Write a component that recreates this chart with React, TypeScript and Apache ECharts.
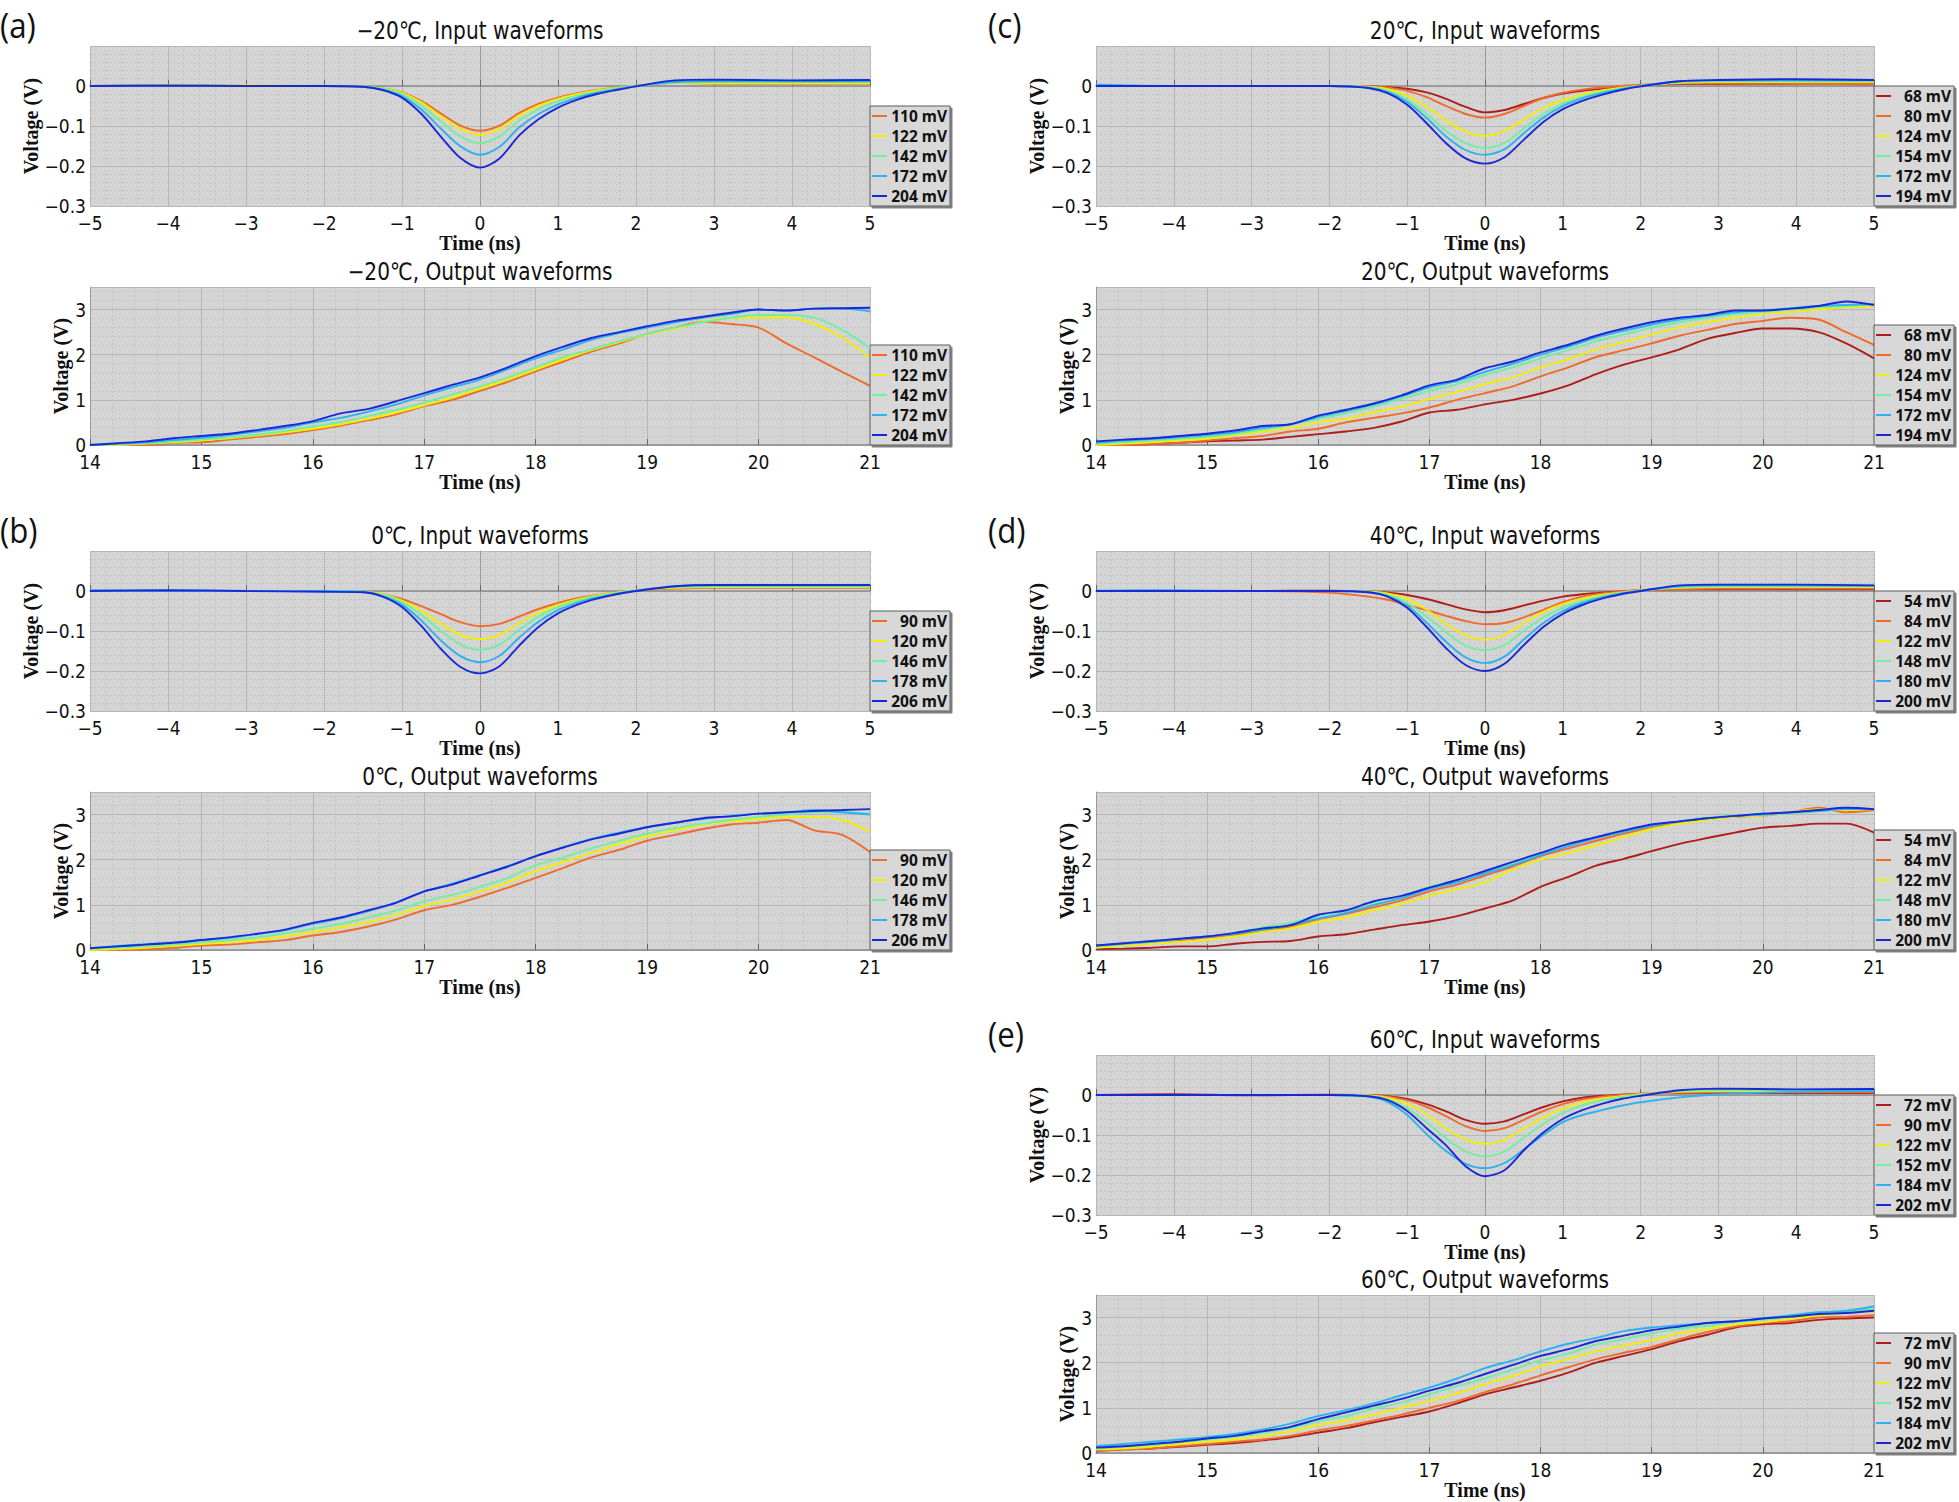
import React, { useEffect, useRef } from 'react';
import * as echarts from 'echarts';

// ---------- time axes (ns) ----------
const IN_T = [-5, -4, -3, -2, -1.5, -1.25, -1, -0.75, -0.5, -0.25, 0, 0.25, 0.5, 0.75, 1, 1.25, 1.5, 1.75, 2, 2.5, 3, 4, 5];
const OUT_T = [14, 14.25, 14.5, 14.75, 15, 15.25, 15.5, 15.75, 16, 16.25, 16.5, 16.75, 17, 17.25, 17.5, 17.75, 18, 18.25, 18.5, 18.75, 19, 19.25, 19.5, 19.75, 20, 20.25, 20.5, 20.75, 21];

// ---------- (a) -20 C ----------
const A_LABELS = ['110 mV', '122 mV', '142 mV', '172 mV', '204 mV'];
const A_IN_110 = [0, 0.002, 0, 0, -0.001, -0.006, -0.016, -0.038, -0.069, -0.099, -0.112, -0.099, -0.068, -0.045, -0.029, -0.018, -0.01, -0.004, 0.001, 0.008, 0.005, 0.005, 0.005];
const A_IN_122 = [0, 0.001, 0.002, 0, -0.001, -0.006, -0.017, -0.041, -0.076, -0.107, -0.122, -0.107, -0.074, -0.049, -0.032, -0.02, -0.011, -0.005, 0.001, 0.008, 0.006, 0.006, 0.006];
const A_IN_142 = [0, 0, 0, 0.001, -0.001, -0.007, -0.02, -0.049, -0.089, -0.126, -0.143, -0.126, -0.087, -0.058, -0.038, -0.024, -0.014, -0.006, 0, 0.009, 0.01, 0.01, 0.01];
const A_IN_172 = [0, 0.001, 0, 0, -0.002, -0.009, -0.025, -0.059, -0.107, -0.151, -0.172, -0.152, -0.104, -0.07, -0.046, -0.029, -0.017, -0.008, 0, 0.01, 0.012, 0.012, 0.012];
const A_IN_204 = [0, 0.001, 0, 0, -0.002, -0.01, -0.029, -0.07, -0.127, -0.18, -0.204, -0.181, -0.124, -0.083, -0.054, -0.034, -0.02, -0.01, -0.001, 0.014, 0.016, 0.014, 0.015];
const A_OUT_110 = [0, 0, 0, 0.05, 0.06, 0.12, 0.18, 0.24, 0.33, 0.43, 0.55, 0.68, 0.86, 1.0, 1.2, 1.4, 1.63, 1.85, 2.07, 2.25, 2.46, 2.6, 2.73, 2.68, 2.6, 2.25, 1.94, 1.62, 1.31];
const A_OUT_122 = [0, 0, 0.03, 0.06, 0.1, 0.15, 0.21, 0.28, 0.36, 0.46, 0.58, 0.72, 0.88, 1.05, 1.25, 1.45, 1.67, 1.9, 2.1, 2.28, 2.45, 2.58, 2.73, 2.82, 2.82, 2.83, 2.68, 2.38, 1.93];
const A_OUT_142 = [0, 0.02, 0.04, 0.08, 0.12, 0.17, 0.23, 0.31, 0.41, 0.51, 0.64, 0.78, 0.94, 1.12, 1.3, 1.5, 1.72, 1.95, 2.12, 2.3, 2.46, 2.6, 2.72, 2.82, 2.88, 2.88, 2.82, 2.55, 2.15];
const A_OUT_172 = [0, 0.03, 0.06, 0.11, 0.16, 0.22, 0.3, 0.38, 0.5, 0.6, 0.74, 0.9, 1.1, 1.28, 1.45, 1.68, 1.92, 2.12, 2.33, 2.48, 2.6, 2.72, 2.82, 2.9, 3.0, 2.98, 3.02, 3.02, 2.96];
const A_OUT_204 = [0, 0.04, 0.08, 0.15, 0.2, 0.25, 0.33, 0.42, 0.53, 0.7, 0.8, 0.97, 1.15, 1.33, 1.5, 1.72, 1.97, 2.18, 2.37, 2.5, 2.63, 2.75, 2.84, 2.93, 3.0, 2.98, 3.02, 3.03, 3.04];

// ---------- (b) 0 C ----------
const B_LABELS = ['90 mV', '120 mV', '146 mV', '178 mV', '206 mV'];
const B_IN_90 = [0, 0, 0, 0, -0.002, -0.008, -0.02, -0.038, -0.058, -0.078, -0.088, -0.082, -0.064, -0.045, -0.03, -0.018, -0.01, -0.004, 0.001, 0.006, 0.008, 0.008, 0.008];
const B_IN_120 = [0, 0, 0, 0, -0.002, -0.008, -0.024, -0.05, -0.082, -0.11, -0.12, -0.11, -0.08, -0.054, -0.035, -0.021, -0.011, -0.004, 0.002, 0.008, 0.01, 0.01, 0.01];
const B_IN_146 = [0, 0, 0, 0, -0.002, -0.01, -0.028, -0.06, -0.1, -0.134, -0.147, -0.134, -0.097, -0.064, -0.04, -0.024, -0.013, -0.005, 0.002, 0.01, 0.012, 0.012, 0.012];
const B_IN_178 = [0.002, 0, 0, 0, -0.002, -0.012, -0.034, -0.074, -0.124, -0.163, -0.178, -0.162, -0.117, -0.077, -0.048, -0.029, -0.016, -0.007, 0.001, 0.012, 0.015, 0.014, 0.014];
const B_IN_206 = [0, 0.002, 0, -0.002, -0.003, -0.014, -0.04, -0.088, -0.145, -0.19, -0.206, -0.188, -0.137, -0.09, -0.056, -0.034, -0.019, -0.008, 0, 0.012, 0.015, 0.015, 0.015];
const B_OUT_90 = [0, 0, 0.02, 0.05, 0.1, 0.12, 0.17, 0.22, 0.32, 0.4, 0.52, 0.68, 0.88, 1.0, 1.18, 1.38, 1.6, 1.82, 2.05, 2.22, 2.42, 2.55, 2.68, 2.78, 2.82, 2.88, 2.65, 2.55, 2.17];
const B_OUT_120 = [0, 0.02, 0.05, 0.09, 0.13, 0.17, 0.22, 0.3, 0.4, 0.5, 0.62, 0.78, 0.98, 1.12, 1.3, 1.5, 1.75, 1.95, 2.15, 2.35, 2.52, 2.65, 2.78, 2.85, 2.9, 2.95, 2.95, 2.88, 2.62];
const B_OUT_146 = [0.03, 0.05, 0.08, 0.12, 0.17, 0.22, 0.28, 0.37, 0.47, 0.58, 0.72, 0.88, 1.08, 1.22, 1.4, 1.6, 1.88, 2.05, 2.25, 2.42, 2.58, 2.7, 2.8, 2.88, 2.95, 3.0, 3.05, 3.05, 3.02];
const B_OUT_178 = [0.04, 0.09, 0.13, 0.17, 0.22, 0.27, 0.35, 0.44, 0.58, 0.7, 0.86, 1.05, 1.3, 1.47, 1.66, 1.86, 2.08, 2.28, 2.46, 2.6, 2.72, 2.82, 2.9, 2.97, 3.02, 3.05, 3.1, 3.05, 3.0];
const B_OUT_206 = [0.04, 0.08, 0.12, 0.16, 0.22, 0.28, 0.36, 0.45, 0.6, 0.72, 0.88, 1.05, 1.3, 1.45, 1.65, 1.85, 2.08, 2.27, 2.45, 2.58, 2.72, 2.82, 2.92, 2.96, 3.02, 3.05, 3.08, 3.1, 3.12];

// ---------- (c) 20 C ----------
const C_LABELS = ['68 mV', '80 mV', '124 mV', '154 mV', '172 mV', '194 mV'];
const C_IN_68 = [0, 0, 0, 0, -0.001, -0.003, -0.007, -0.016, -0.032, -0.052, -0.066, -0.06, -0.045, -0.03, -0.019, -0.012, -0.007, -0.003, 0.002, 0.005, 0.005, 0.005, 0.004];
const C_IN_80 = [0, 0, 0, 0, -0.001, -0.004, -0.012, -0.028, -0.05, -0.07, -0.079, -0.07, -0.05, -0.03, -0.017, -0.009, -0.004, 0, 0.003, 0.006, 0.006, 0.005, 0.005];
const C_IN_124 = [0, 0, 0, 0, -0.002, -0.008, -0.024, -0.052, -0.086, -0.114, -0.125, -0.113, -0.083, -0.055, -0.035, -0.021, -0.011, -0.004, 0.001, 0.008, 0.01, 0.01, 0.01];
const C_IN_154 = [0, 0, 0, 0, -0.003, -0.012, -0.034, -0.07, -0.112, -0.143, -0.155, -0.142, -0.106, -0.07, -0.044, -0.027, -0.015, -0.006, 0, 0.01, 0.012, 0.012, 0.012];
const C_IN_172 = [0.003, 0, 0, 0, -0.004, -0.015, -0.04, -0.08, -0.126, -0.16, -0.172, -0.158, -0.118, -0.079, -0.05, -0.031, -0.018, -0.008, 0, 0.012, 0.014, 0.014, 0.014];
const C_IN_194 = [0, 0, 0, 0, -0.005, -0.018, -0.047, -0.093, -0.143, -0.181, -0.194, -0.178, -0.134, -0.09, -0.058, -0.037, -0.022, -0.01, -0.001, 0.012, 0.015, 0.017, 0.015];
const C_OUT_68 = [0, 0, 0.02, 0.05, 0.08, 0.1, 0.12, 0.18, 0.24, 0.3, 0.38, 0.52, 0.72, 0.78, 0.9, 1.0, 1.14, 1.32, 1.57, 1.78, 1.94, 2.12, 2.35, 2.48, 2.58, 2.58, 2.5, 2.25, 1.92];
const C_OUT_80 = [0, 0, 0.02, 0.05, 0.1, 0.15, 0.2, 0.3, 0.36, 0.5, 0.6, 0.7, 0.83, 1.0, 1.15, 1.3, 1.52, 1.72, 1.95, 2.1, 2.25, 2.42, 2.55, 2.68, 2.75, 2.82, 2.78, 2.5, 2.22];
const C_OUT_124 = [0, 0.03, 0.06, 0.1, 0.14, 0.22, 0.3, 0.38, 0.5, 0.58, 0.72, 0.85, 1.02, 1.17, 1.35, 1.5, 1.72, 1.9, 2.12, 2.28, 2.45, 2.6, 2.72, 2.82, 2.9, 2.95, 3.0, 3.05, 3.07];
const C_OUT_154 = [0.03, 0.06, 0.1, 0.14, 0.18, 0.25, 0.34, 0.45, 0.58, 0.7, 0.85, 1.02, 1.2, 1.35, 1.55, 1.72, 1.92, 2.1, 2.3, 2.45, 2.6, 2.72, 2.82, 2.9, 2.95, 3.0, 3.05, 3.08, 3.12];
const C_OUT_172 = [0.05, 0.1, 0.13, 0.17, 0.22, 0.28, 0.38, 0.46, 0.62, 0.75, 0.9, 1.08, 1.28, 1.42, 1.62, 1.8, 2.0, 2.18, 2.38, 2.53, 2.67, 2.78, 2.86, 2.94, 2.98, 3.03, 3.08, 3.1, 3.12];
const C_OUT_194 = [0.08, 0.12, 0.15, 0.2, 0.25, 0.32, 0.42, 0.46, 0.65, 0.78, 0.92, 1.1, 1.32, 1.45, 1.7, 1.85, 2.05, 2.22, 2.42, 2.58, 2.72, 2.82, 2.88, 2.98, 2.98, 3.02, 3.08, 3.18, 3.1];

// ---------- (d) 40 C ----------
const D_LABELS = ['54 mV', '84 mV', '122 mV', '148 mV', '180 mV', '200 mV'];
const D_IN_54 = [0, 0, 0, 0.001, -0.001, -0.004, -0.01, -0.02, -0.033, -0.046, -0.053, -0.048, -0.036, -0.024, -0.014, -0.008, -0.004, -0.001, 0.002, 0.004, 0.004, 0.004, 0.004];
const D_IN_84 = [0, 0, 0, -0.004, -0.014, -0.022, -0.035, -0.048, -0.062, -0.075, -0.083, -0.08, -0.066, -0.047, -0.028, -0.014, -0.006, -0.001, 0.002, 0.005, 0.006, 0.006, 0.006];
const D_IN_122 = [0, 0, 0, 0, -0.001, -0.006, -0.02, -0.047, -0.082, -0.111, -0.122, -0.11, -0.08, -0.052, -0.032, -0.019, -0.01, -0.004, 0.002, 0.008, 0.01, 0.01, 0.01];
const D_IN_148 = [0, 0, 0, 0, -0.002, -0.01, -0.03, -0.064, -0.103, -0.136, -0.148, -0.135, -0.099, -0.066, -0.042, -0.025, -0.013, -0.005, 0.001, 0.01, 0.012, 0.012, 0.012];
const D_IN_180 = [0.001, 0.002, 0, 0, -0.003, -0.013, -0.037, -0.079, -0.127, -0.166, -0.18, -0.164, -0.121, -0.08, -0.05, -0.03, -0.016, -0.006, 0.001, 0.012, 0.014, 0.014, 0.013];
const D_IN_200 = [0, 0, 0, 0, -0.003, -0.014, -0.042, -0.09, -0.143, -0.185, -0.2, -0.182, -0.135, -0.09, -0.057, -0.035, -0.019, -0.008, 0, 0.014, 0.016, 0.016, 0.014];
const D_OUT_54 = [0.02, 0.03, 0.05, 0.08, 0.08, 0.14, 0.18, 0.2, 0.3, 0.35, 0.45, 0.55, 0.63, 0.75, 0.92, 1.1, 1.4, 1.62, 1.87, 2.02, 2.19, 2.35, 2.48, 2.6, 2.71, 2.75, 2.8, 2.8, 2.6];
const D_OUT_84 = [0.08, 0.12, 0.18, 0.22, 0.28, 0.34, 0.42, 0.52, 0.68, 0.8, 0.95, 1.1, 1.3, 1.45, 1.65, 1.85, 2.08, 2.25, 2.42, 2.58, 2.72, 2.82, 2.9, 2.95, 2.98, 3.05, 3.15, 3.05, 3.1];
const D_OUT_122 = [0.05, 0.1, 0.14, 0.18, 0.22, 0.3, 0.4, 0.48, 0.62, 0.72, 0.88, 1.02, 1.2, 1.35, 1.5, 1.78, 2.0, 2.15, 2.32, 2.5, 2.68, 2.8, 2.88, 2.95, 2.98, 3.05, 3.12, 3.1, 3.12];
const D_OUT_148 = [0.08, 0.13, 0.18, 0.24, 0.3, 0.38, 0.5, 0.6, 0.75, 0.88, 1.05, 1.2, 1.4, 1.55, 1.72, 1.9, 2.12, 2.3, 2.48, 2.62, 2.75, 2.85, 2.93, 2.98, 3.0, 3.03, 3.08, 3.12, 3.12];
const D_OUT_180 = [0.1, 0.14, 0.18, 0.24, 0.3, 0.36, 0.45, 0.55, 0.7, 0.82, 1.0, 1.15, 1.35, 1.5, 1.7, 1.88, 2.1, 2.3, 2.48, 2.62, 2.75, 2.85, 2.92, 2.97, 3.0, 3.05, 3.08, 3.12, 3.12];
const D_OUT_200 = [0.1, 0.15, 0.2, 0.25, 0.3, 0.38, 0.48, 0.55, 0.78, 0.88, 1.08, 1.2, 1.38, 1.55, 1.75, 1.95, 2.15, 2.35, 2.5, 2.65, 2.78, 2.85, 2.92, 2.97, 3.02, 3.05, 3.1, 3.15, 3.12];

// ---------- (e) 60 C ----------
const E_LABELS = ['72 mV', '90 mV', '122 mV', '152 mV', '184 mV', '202 mV'];
const E_IN_72 = [0, 0.002, -0.001, 0.001, 0, -0.003, -0.01, -0.023, -0.041, -0.062, -0.072, -0.066, -0.048, -0.03, -0.016, -0.007, -0.002, 0.001, 0.003, 0.006, 0.005, 0.005, 0.005];
const E_IN_90 = [0, 0, 0, 0, 0, -0.004, -0.013, -0.03, -0.053, -0.078, -0.09, -0.083, -0.062, -0.04, -0.023, -0.011, -0.004, 0, 0.003, 0.007, 0.007, 0.007, 0.007];
const E_IN_122 = [0, 0, 0, 0, -0.001, -0.007, -0.022, -0.048, -0.083, -0.111, -0.122, -0.112, -0.084, -0.056, -0.034, -0.019, -0.009, -0.003, 0.002, 0.008, 0.01, 0.01, 0.01];
const E_IN_152 = [0, 0, 0, 0, -0.002, -0.011, -0.033, -0.068, -0.109, -0.141, -0.153, -0.141, -0.107, -0.072, -0.045, -0.026, -0.013, -0.005, 0.001, 0.01, 0.012, 0.012, 0.012];
const E_IN_184 = [0, 0, 0, 0, -0.004, -0.018, -0.05, -0.098, -0.14, -0.172, -0.183, -0.17, -0.136, -0.1, -0.068, -0.05, -0.038, -0.027, -0.018, -0.006, 0.002, 0.008, 0.01];
const E_IN_202 = [0, 0, 0, 0, -0.003, -0.013, -0.04, -0.083, -0.126, -0.178, -0.203, -0.188, -0.138, -0.094, -0.06, -0.038, -0.022, -0.01, -0.002, 0.012, 0.016, 0.014, 0.015];
const E_OUT_72 = [0.05, 0.08, 0.1, 0.14, 0.18, 0.22, 0.28, 0.35, 0.45, 0.55, 0.68, 0.8, 0.92, 1.1, 1.3, 1.45, 1.6, 1.78, 2.0, 2.15, 2.3, 2.48, 2.62, 2.78, 2.85, 2.88, 2.95, 2.98, 3.0];
const E_OUT_90 = [0.05, 0.08, 0.1, 0.15, 0.2, 0.25, 0.3, 0.38, 0.5, 0.6, 0.72, 0.85, 1.0, 1.15, 1.35, 1.52, 1.72, 1.9, 2.08, 2.22, 2.35, 2.52, 2.68, 2.8, 2.88, 2.92, 3.0, 3.02, 3.05];
const E_OUT_122 = [0.08, 0.1, 0.14, 0.2, 0.25, 0.3, 0.38, 0.48, 0.62, 0.72, 0.85, 1.0, 1.15, 1.32, 1.52, 1.7, 1.92, 2.08, 2.25, 2.38, 2.5, 2.65, 2.75, 2.85, 2.9, 2.97, 3.05, 3.1, 3.15];
const E_OUT_152 = [0.1, 0.14, 0.18, 0.24, 0.3, 0.36, 0.45, 0.55, 0.7, 0.82, 0.98, 1.12, 1.3, 1.48, 1.65, 1.85, 2.05, 2.2, 2.4, 2.52, 2.65, 2.75, 2.82, 2.9, 2.95, 3.02, 3.08, 3.12, 3.2];
const E_OUT_184 = [0.15, 0.2, 0.25, 0.3, 0.35, 0.42, 0.52, 0.65, 0.82, 0.95, 1.1, 1.28, 1.45, 1.65, 1.88, 2.05, 2.25, 2.42, 2.55, 2.7, 2.78, 2.83, 2.88, 2.92, 2.98, 3.05, 3.12, 3.15, 3.25];
const E_OUT_202 = [0.12, 0.15, 0.2, 0.25, 0.32, 0.38, 0.48, 0.58, 0.75, 0.9, 1.05, 1.2, 1.38, 1.55, 1.75, 1.95, 2.15, 2.3, 2.48, 2.6, 2.72, 2.8, 2.88, 2.92, 2.98, 3.02, 3.08, 3.1, 3.15];

const PANELS = [
  { id: 'a', temp: '−20', col: 0, row: 0, labels: A_LABELS,
    input: [A_IN_110, A_IN_122, A_IN_142, A_IN_172, A_IN_204],
    output: [A_OUT_110, A_OUT_122, A_OUT_142, A_OUT_172, A_OUT_204] },
  { id: 'b', temp: '0', col: 0, row: 1, labels: B_LABELS,
    input: [B_IN_90, B_IN_120, B_IN_146, B_IN_178, B_IN_206],
    output: [B_OUT_90, B_OUT_120, B_OUT_146, B_OUT_178, B_OUT_206] },
  { id: 'c', temp: '20', col: 1, row: 0, labels: C_LABELS,
    input: [C_IN_68, C_IN_80, C_IN_124, C_IN_154, C_IN_172, C_IN_194],
    output: [C_OUT_68, C_OUT_80, C_OUT_124, C_OUT_154, C_OUT_172, C_OUT_194] },
  { id: 'd', temp: '40', col: 1, row: 1, labels: D_LABELS,
    input: [D_IN_54, D_IN_84, D_IN_122, D_IN_148, D_IN_180, D_IN_200],
    output: [D_OUT_54, D_OUT_84, D_OUT_122, D_OUT_148, D_OUT_180, D_OUT_200] },
  { id: 'e', temp: '60', col: 1, row: 2, labels: E_LABELS,
    input: [E_IN_72, E_IN_90, E_IN_122, E_IN_152, E_IN_184, E_IN_202],
    output: [E_OUT_72, E_OUT_90, E_OUT_122, E_OUT_152, E_OUT_184, E_OUT_202] },
];

// ---------- styles / layout ----------
const JET5 = ['#f06a2a', '#f2ee00', '#72eea0', '#2cb2f0', '#1a28d6'];
const JET6 = ['#b01c1c', '#f06a2a', '#f2ee00', '#72eea0', '#2cb2f0', '#1a28d6'];
const COL_LEFT = [90, 1096];
const COL_W = [780, 778];
const ROW_IN_TOP = [46, 551, 1055];
const ROW_OUT_TOP = [287, 792, 1295];
const IN_H = 160;
const OUT_H = 158;
const LEG_ROW = 20;
const TICK_FONT = "'Liberation Sans Narrow', 'DejaVu Sans Condensed', Roboto, sans-serif";
const TITLE_FONT = "'DejaVu Sans', 'Noto Sans CJK JP', sans-serif";

const minus = (v: number, d: number) => {
  const r = Math.round(v * Math.pow(10, d)) / Math.pow(10, d);
  if (r === 0) return '0';
  return r < 0 ? '−' + Math.abs(r).toFixed(d) : r.toFixed(d);
};

function buildOption() {
  const grid: any[] = [];
  const xAxis: any[] = [];
  const yAxis: any[] = [];
  const series: any[] = [];
  const legend: any[] = [];
  const graphic: any[] = [];
  let gi = 0;

  PANELS.forEach((p) => {
    const left = COL_LEFT[p.col];
    const width = COL_W[p.col];
    const colors = p.labels.length === 6 ? JET6 : JET5;
    const names = p.labels.map((l) => p.id + '|' + l);

    graphic.push({
      type: 'text', x: p.col === 0 ? 0 : 988, y: ROW_IN_TOP[p.row] - 21, scaleX: 0.92,
      style: { text: '(' + p.id + ')', fontSize: 34, fontFamily: "'Open Sans', 'Noto Sans', sans-serif", fill: '#111',
        align: 'left', verticalAlign: 'middle', textAlign: 'left', textVerticalAlign: 'middle' },
    });

    const plots = [
      { kind: 'Input', top: ROW_IN_TOP[p.row], h: IN_H, t: IN_T, data: p.input, xmin: -5, xmax: 5,
        ymin: -0.3, ymax: 0.1, yint: 0.1, gapY: 43, gapX: 20,
        yfmt: (v: number) => (v > 0.05 ? '' : minus(v, 1)) },
      { kind: 'Output', top: ROW_OUT_TOP[p.row], h: OUT_H, t: OUT_T, data: p.output, xmin: 14, xmax: 21,
        ymin: 0, ymax: 3.5, yint: 1, gapY: 17, gapX: 22,
        yfmt: (v: number) => (v > 3.2 ? '' : String(Math.round(v))) },
    ];

    plots.forEach((pl) => {
      grid.push({ left, top: pl.top, width, height: pl.h, show: true, backgroundColor: '#d4d4d4', borderWidth: 0 });
      xAxis.push({
        type: 'value', gridIndex: gi, min: pl.xmin, max: pl.xmax, interval: 1,
        name: 'Time (ns)', nameLocation: 'middle', nameGap: pl.gapX,
        nameTextStyle: { fontFamily: "'Liberation Serif', serif", fontWeight: 'bold', fontSize: 20, color: '#111' },
        axisLine: { show: true, lineStyle: { color: '#8c8c8c', width: 1.5 } },
        axisTick: { show: true, inside: true, length: 6, lineStyle: { color: '#666' } },
        axisLabel: { formatter: (v: number) => minus(v, 0), fontSize: 19, fontFamily: TICK_FONT, color: '#111', margin: 7 },
        splitLine: { show: true, lineStyle: { color: '#b6b6b6', width: 1 } },
        minorTick: { show: false, splitNumber: 5 },
        minorSplitLine: { show: true, lineStyle: { color: '#c3c3c3', width: 1, type: [2, 2] } },
      });
      yAxis.push({
        type: 'value', gridIndex: gi, min: pl.ymin, max: pl.ymax, interval: pl.yint,
        name: 'Voltage (V)', nameLocation: 'middle', nameGap: pl.gapY, nameRotate: 90,
        nameTextStyle: { fontFamily: "'Liberation Serif', serif", fontWeight: 'bold', fontSize: 20, color: '#111' },
        axisLine: { show: true, lineStyle: { color: '#9a9a9a', width: 1 } },
        axisTick: { show: false },
        axisLabel: { formatter: pl.yfmt, fontSize: 19, fontFamily: TICK_FONT, color: '#111', margin: 4 },
        splitLine: { show: true, lineStyle: { color: '#b6b6b6', width: 1 } },
        minorTick: { show: false, splitNumber: 5 },
        minorSplitLine: { show: true, lineStyle: { color: '#c3c3c3', width: 1, type: [2, 2] } },
      });
      pl.data.forEach((vals: number[], si: number) => {
        const color = colors[si];
        series.push({
          type: 'line', name: names[si], xAxisIndex: gi, yAxisIndex: gi,
          data: pl.t.map((t: number, k: number) => [t, vals[k]]),
          showSymbol: false, symbol: 'none', smooth: 0.3, silent: true,
          color, itemStyle: { color }, lineStyle: { color, width: 1.9 }, z: 2 + si,
        });
      });
      const n = names.length;
      legend.push({
        show: true, data: names, orient: 'vertical', left: left + width, top: pl.top + pl.h - n * LEG_ROW,
        icon: 'rect', itemWidth: 15, itemHeight: 2, itemGap: 0, padding: [0, 3, 0, 2],
        backgroundColor: '#d8d8d8', borderColor: '#5a5a5a', borderWidth: 1,
        shadowColor: 'rgba(0,0,0,0.5)', shadowOffsetX: 2, shadowOffsetY: 2, shadowBlur: 1,
        selectedMode: false,
        formatter: (nm: string) => '{v|' + nm.split('|')[1] + '}',
        textStyle: {
          rich: { v: { width: 55, align: 'right', fontSize: 15.5, fontWeight: 'bold',
            fontFamily: "'Noto Sans', sans-serif", color: '#111', lineHeight: LEG_ROW, height: LEG_ROW } },
        },
      });
      graphic.push({
        type: 'text', x: left + width / 2, y: pl.top - 16, scaleX: 0.84,
        style: { text: p.temp + '℃, ' + pl.kind + ' waveforms', fontSize: 24, fontFamily: TITLE_FONT, fill: '#111',
          align: 'center', verticalAlign: 'middle', textAlign: 'center', textVerticalAlign: 'middle' },
      });
      gi++;
    });
  });

  return { animation: false, backgroundColor: '#ffffff', grid, xAxis, yAxis, series, legend, graphic };
}

export default function App() {
  const ref = useRef<HTMLDivElement>(null);
  useEffect(() => {
    if (!ref.current) return;
    const chart = echarts.init(ref.current, null, { renderer: 'svg' });
    chart.setOption(buildOption() as any);
    return () => chart.dispose();
  }, []);
  return <div ref={ref} style={{ position: 'absolute', left: 0, top: 0, width: 1959, height: 1502, background: '#fff' }} />;
}
